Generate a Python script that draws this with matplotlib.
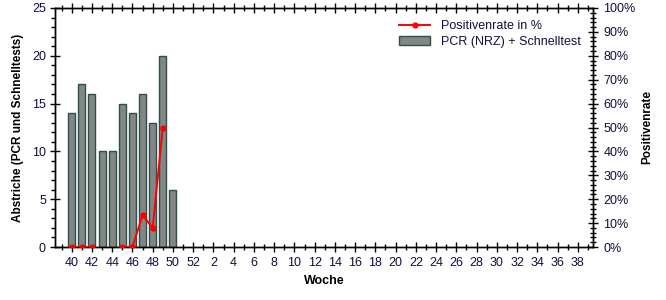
import matplotlib
matplotlib.use("Agg")
import matplotlib.pyplot as plt
from matplotlib.ticker import MultipleLocator, FixedLocator, FuncFormatter
import numpy as np

plt.rcParams['font.family'] = ['Liberation Sans', 'DejaVu Sans']

weeks = list(range(40, 53)) + list(range(1, 40))
tests = [14, 17, 16, 10, 10, 15, 14, 16, 13, 20, 6]          # weeks 40..50
positivity = [0, 0, 0, np.nan, np.nan, 0, 0, 13.3, 8, 50]     # weeks 40..49, in %

fig = plt.figure(figsize=(6.66, 3.0), dpi=100)
ax = fig.add_axes([55/666, 1-247/300, (593-55)/666, (247-8)/300])
ax2 = ax.twinx()

x_bars = np.arange(len(tests))
x_line = np.arange(len(positivity))

ax.bar(x_bars, tests, width=0.7, color='#838783', edgecolor='#2f4f4f', linewidth=1.0,
       label='PCR (NRZ) + Schnelltest', zorder=2)
ax2.plot(x_line, positivity, color='#ff0000', linewidth=1.4, marker='o', markersize=3.5,
         label='Positivenrate in %', zorder=3)

ax.set_xlim(-1.65, 51.5)
ax.set_ylim(0, 25)
ax2.set_ylim(0, 100)

major_x = list(range(0, len(weeks), 2))
ax.xaxis.set_major_locator(FixedLocator(major_x))
ax.xaxis.set_minor_locator(FixedLocator([i for i in range(-1, len(weeks)) if i % 2 != 0]))
ax.set_xticklabels([str(weeks[i]) for i in major_x])

ax.yaxis.set_major_locator(MultipleLocator(5))
ax.yaxis.set_minor_locator(MultipleLocator(1))
ax2.yaxis.set_major_locator(MultipleLocator(10))
ax2.yaxis.set_minor_locator(MultipleLocator(2))
ax2.yaxis.set_major_formatter(FuncFormatter(lambda v, p: f"{int(round(v))}%"))

lab_color = '#10103a'
ax.tick_params(axis='x', which='major', direction='inout', length=7, width=1,
               labelsize=9, colors='black', labelcolor=lab_color, pad=4, top=True)
ax.tick_params(axis='x', which='minor', direction='inout', length=5, width=1, top=True)
ax.tick_params(axis='y', which='major', direction='inout', length=7, width=1,
               labelsize=9, labelcolor=lab_color, pad=3)
ax.tick_params(axis='y', which='minor', direction='out', length=3, width=1)
ax2.tick_params(axis='y', which='major', direction='inout', length=7, width=1,
                labelsize=9, labelcolor=lab_color, pad=4)
ax2.tick_params(axis='y', which='minor', direction='inout', length=4, width=1)

for a in (ax, ax2):
    for s in a.spines.values():
        s.set_linewidth(1)
        s.set_color('black')

ax.set_xlabel('Woche', fontsize=9, fontweight='bold', labelpad=4)
ax.set_ylabel('Abstriche (PCR und Schnelltests)', fontsize=8.5, fontweight='bold', labelpad=6)
ax2.set_ylabel('Positivenrate', fontsize=8.5, fontweight='bold', labelpad=4)

h1, l1 = ax2.get_legend_handles_labels()
h2, l2 = ax.get_legend_handles_labels()
leg = ax2.legend(h1 + h2, l1 + l2, loc='upper left', bbox_to_anchor=(0.63, 0.97),
                 frameon=False, fontsize=9, handlelength=2.5, handletextpad=0.9,
                 borderaxespad=0, labelspacing=0.3)
for t in leg.get_texts():
    t.set_color(lab_color)

fig.savefig('out.png', dpi=100)
